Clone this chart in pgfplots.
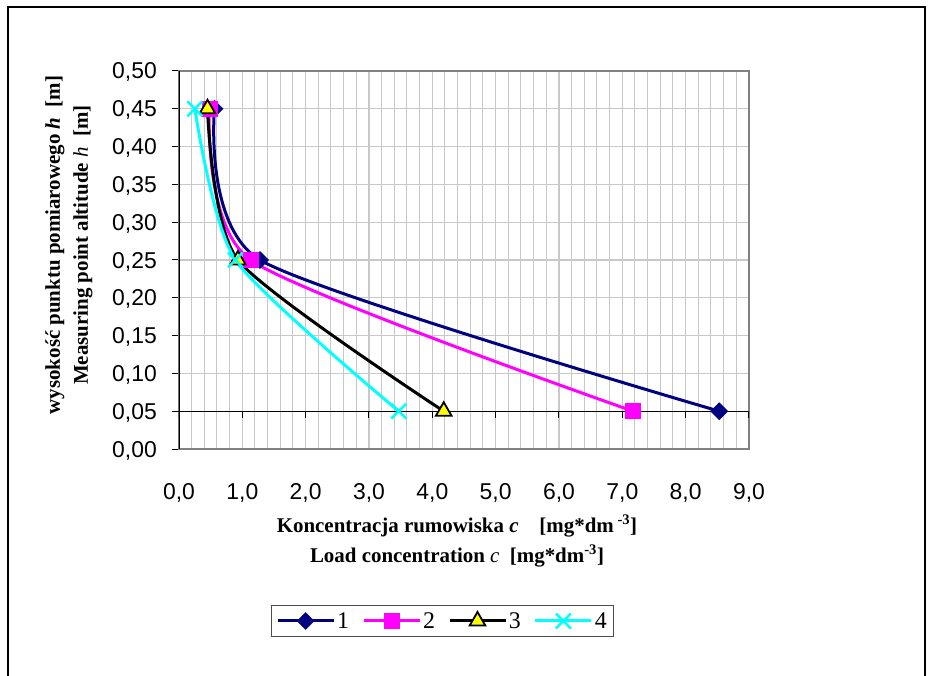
\documentclass[border=0pt]{standalone}
\usepackage{fontspec}
\usepackage{pgfplots}
\pgfplotsset{compat=1.18}
\setmainfont{Liberation Serif}
\newfontfamily\ticksans{Liberation Sans}

\definecolor{sNavy}{RGB}{0,0,128}
\definecolor{sMag}{RGB}{255,0,255}
\definecolor{sCyan}{RGB}{0,255,255}
\definecolor{sYel}{RGB}{255,255,0}
\definecolor{gridc}{RGB}{200,200,200}
\definecolor{boxc}{RGB}{128,128,128}

\begin{document}
\begin{tikzpicture}
\useasboundingbox (-179bp,-227bp) rectangle (754bp,449bp);
% outer frame (cut at the bottom)
\draw[black, line width=1.3bp] (-171bp,-227bp) -- (-171bp,442bp) -- (746bp,442bp) -- (746bp,-227bp);

\begin{axis}[
    at={(0,0)}, anchor=south west,
    scale only axis,
    width=570bp, height=378bp,
    xmin=0, xmax=9, ymin=0, ymax=0.5,
    xtick={0,1,2,3,4,5,6,7,8,9},
    minor x tick num=4,
    ytick={0,0.05,0.1,0.15,0.2,0.25,0.3,0.35,0.4,0.45,0.5},
    xmajorgrids=true, xminorgrids=true, ymajorgrids=true,
    major grid style={gridc, line width=1.2bp},
    minor grid style={gridc, line width=1bp},
    axis line style={boxc, line width=2.5bp},
    xtick pos=bottom, ytick pos=left,
    tick align=outside,
    major tick length=7bp,
    minor tick length=0pt,
    x tick style={draw=none},
    y tick style={black, line width=1bp},
    xticklabel style={font=\ticksans\fontsize{23}{27}\selectfont, anchor=base, yshift=-43bp,
        /pgf/number format/.cd, fixed, fixed zerofill, precision=1, use comma, assume math mode=true},
    yticklabel style={font=\ticksans\fontsize{23}{27}\selectfont, anchor=base east, inner sep=0pt,
        xshift=-15bp, yshift=-8bp,
        /pgf/number format/.cd, fixed, fixed zerofill, precision=2, use comma, assume math mode=true},
    extra y ticks={0.05},
    extra y tick labels={},
    extra y tick style={grid=major, major grid style={black, line width=1.3bp}},
    legend columns=4,
    legend style={at={(0.4623,-0.455)}, anchor=center, draw=black!70, line width=0.8bp,
        font=\fontsize{24}{28}\selectfont, inner sep=5bp,
        /tikz/every even column/.append style={column sep=11bp}},
    legend image code/.code={\draw[mark repeat=2,mark phase=2,#1] plot coordinates {(0bp,0bp) (28bp,0bp) (56bp,0bp)};},
    every axis plot/.append style={line width=3bp, smooth, tension=0.4},
]
% x axis drawn at h = 0.05 with its tick marks
\pgfplotsinvokeforeach{0,1,2,3,4,5,6,7,8,9}{
    \draw[black, line width=1bp] (axis cs:#1,0.05) -- ++(0,-7bp);
}
\draw[black, line width=1.5bp] (rel axis cs:0,0) -- (rel axis cs:0,1);

\addplot[sNavy, mark=square*, mark size=6bp, mark options={rotate=45, fill=sNavy, line width=0.5bp}]
    coordinates {(0.56,0.45) (1.28,0.25) (8.53,0.05)};
\addlegendentry{1}
\addplot[sMag, mark=square*, mark size=7.5bp, mark options={fill=sMag, line width=0.5bp}]
    coordinates {(0.48,0.45) (1.13,0.25) (7.17,0.05)};
\addlegendentry{2}
\addplot[black, mark=triangle*, mark size=9bp, mark options={fill=sYel, draw=black, line width=1.8bp}]
    coordinates {(0.45,0.45) (0.93,0.25) (4.18,0.05)};
\addlegendentry{3}
\addplot[sCyan, mark=x, mark size=10.5bp, mark options={line width=2.5bp}]
    coordinates {(0.25,0.45) (0.89,0.25) (3.47,0.05)};
\addlegendentry{4}
\end{axis}

% axis titles
\node[anchor=base, font=\fontsize{21}{25}\selectfont\bfseries] at (278bp,-83bp)
    {Koncentracja rumowiska \textit{c}\quad[mg*dm\textsuperscript{ -3}]};
\node[anchor=base, font=\fontsize{21}{25}\selectfont\bfseries] at (278bp,-113bp)
    {Load concentration \textnormal{\textit{c}}\ \ [mg*dm\textsuperscript{-3}]};
\node[rotate=90, font=\fontsize{21}{25}\selectfont\bfseries] at (-124bp,204bp)
    {wysokość punktu pomiarowego \textit{h}\ \ [m]};
\node[rotate=90, font=\fontsize{21}{25}\selectfont\bfseries] at (-96bp,204bp)
    {Measuring point altitude \textnormal{\textit{h}}\ \ [m]};
\end{tikzpicture}
\end{document}
